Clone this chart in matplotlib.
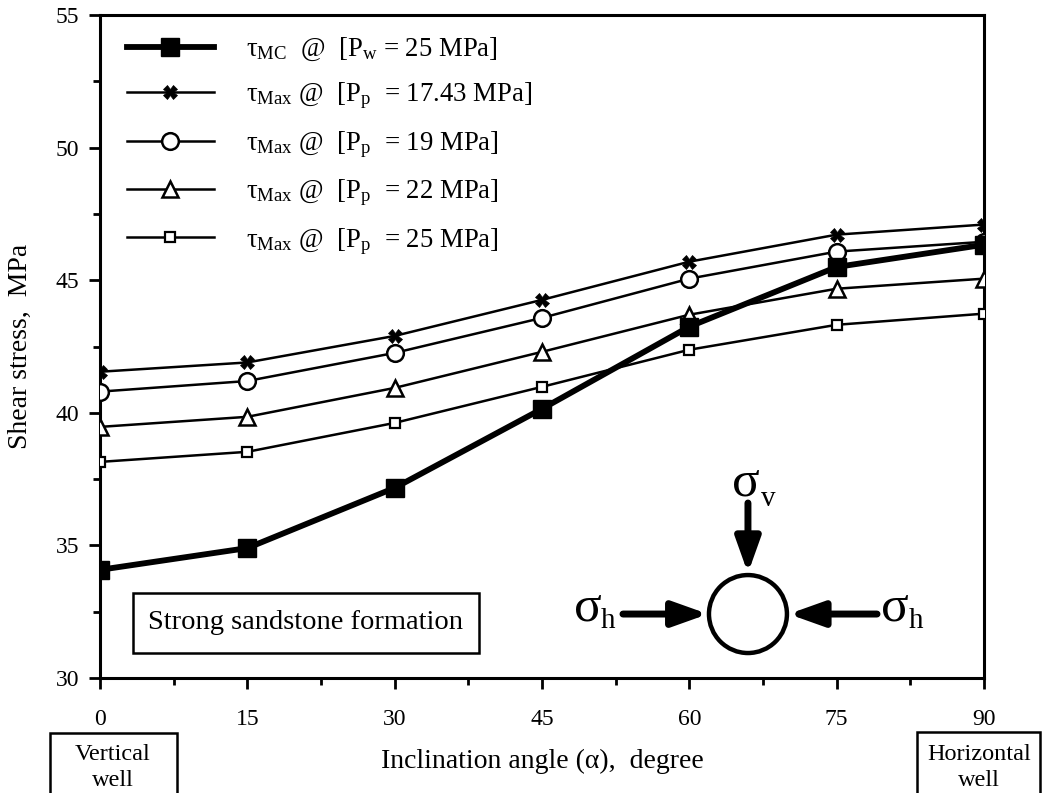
import matplotlib
matplotlib.use("Agg")
import matplotlib.pyplot as plt
from matplotlib.patches import Ellipse, Rectangle, FancyArrowPatch, ArrowStyle

plt.rcParams['font.family'] = ['Liberation Serif', 'DejaVu Serif']
plt.rcParams['mathtext.fontset'] = 'custom'
plt.rcParams['mathtext.rm'] = 'Liberation Serif'
plt.rcParams['mathtext.it'] = 'Liberation Serif:italic'

angles = [0, 15, 30, 45, 60, 75, 90]
tau_mc_pw25 = [34.08, 34.9, 37.17, 40.15, 43.25, 45.5, 46.34]
tau_max_pp1743 = [41.55, 41.9, 42.9, 44.26, 45.7, 46.72, 47.1]
tau_max_pp19 = [40.8, 41.2, 42.26, 43.58, 45.06, 46.08, 46.45]
tau_max_pp22 = [39.47, 39.85, 40.94, 42.3, 43.7, 44.68, 45.06]
tau_max_pp25 = [38.15, 38.53, 39.62, 40.98, 42.38, 43.32, 43.74]

labels = [
    r'τ$_{\mathrm{MC}}$  @  [P$_{\mathrm{w}}$ = 25 MPa]',
    r'τ$_{\mathrm{Max}}$ @  [P$_{\mathrm{p}}$  = 17.43 MPa]',
    r'τ$_{\mathrm{Max}}$ @  [P$_{\mathrm{p}}$  = 19 MPa]',
    r'τ$_{\mathrm{Max}}$ @  [P$_{\mathrm{p}}$  = 22 MPa]',
    r'τ$_{\mathrm{Max}}$ @  [P$_{\mathrm{p}}$  = 25 MPa]',
]
xticks = [0, 15, 30, 45, 60, 75, 90]
yticks = [30, 35, 40, 45, 50, 55]

fig = plt.figure(figsize=(10.44, 7.93), dpi=100)
ax = fig.add_axes([0.0958, 0.145, 0.8467, 0.836])

ax.plot(angles, tau_mc_pw25, color='black', lw=4.2, marker='s', ms=13,
        mfc='black', mec='black', label=labels[0], zorder=5)
ax.plot(angles, tau_max_pp1743, color='black', lw=1.8, marker='X', ms=10,
        mfc='black', mec='black', mew=0.5, label=labels[1], zorder=4)
ax.plot(angles, tau_max_pp19, color='black', lw=1.8, marker='o', ms=12,
        mfc='white', mec='black', mew=1.8, label=labels[2], zorder=4)
ax.plot(angles, tau_max_pp22, color='black', lw=1.8, marker='^', ms=12,
        mfc='white', mec='black', mew=1.8, label=labels[3], zorder=4)
ax.plot(angles, tau_max_pp25, color='black', lw=1.8, marker='s', ms=7.5,
        mfc='white', mec='black', mew=1.6, label=labels[4], zorder=4)

ax.set_xlim(0, 90)
ax.set_ylim(30, 55)
ax.set_xticks(xticks)
ax.set_yticks(yticks)
ax.set_xticks([7.5, 22.5, 37.5, 52.5, 67.5, 82.5], minor=True)
ax.set_yticks([32.5, 37.5, 42.5, 47.5, 52.5], minor=True)
ax.tick_params(axis='both', which='major', direction='out', length=8, width=2,
               labelsize=17, pad=7)
ax.tick_params(axis='both', which='minor', direction='out', length=5, width=2)
ax.tick_params(axis='x', which='major', pad=14)
for s in ax.spines.values():
    s.set_linewidth(2.2)

ax.set_xlabel('Inclination angle (α),  degree', fontsize=20, labelpad=14)
ax.set_ylabel('Shear stress,  MPa', fontsize=20, labelpad=16)

leg = ax.legend(loc='upper left', bbox_to_anchor=(0.012, 0.993), frameon=False,
                fontsize=19.3, handlelength=3.25, handletextpad=1.2,
                labelspacing=0.66, borderaxespad=0.2)

# text box
ax.add_patch(Rectangle((0.0373, 0.0377), 0.3914, 0.0905, transform=ax.transAxes,
                       fill=False, lw=1.8, ec='black', zorder=6))
ax.text(0.233, 0.083, 'Strong sandstone formation', transform=ax.transAxes,
        ha='center', va='center', fontsize=20.5, zorder=6)

# stress diagram
ax.add_patch(Ellipse((0.733, 0.0965), 0.0882, 0.1176, transform=ax.transAxes,
                     fill=False, lw=3.2, ec='black', zorder=6))
style = ArrowStyle('-|>', head_length=21, head_width=7.5)
for (xa, ya), (xb, yb) in [((0.733, 0.264), (0.733, 0.158)),
                           ((0.5916, 0.0965), (0.6878, 0.0965)),
                           ((0.879, 0.0965), (0.779, 0.0965))]:
    ax.add_patch(FancyArrowPatch((xa, ya), (xb, yb), transform=ax.transAxes,
                                 arrowstyle=style, mutation_scale=1, lw=5,
                                 color='black', shrinkA=0, shrinkB=0, zorder=6))
for (sx, sy), (bx, by), sub in [((0.715, 0.276), (0.748, 0.259), 'v'),
                                ((0.536, 0.0875), (0.567, 0.075), 'h'),
                                ((0.884, 0.0875), (0.915, 0.075), 'h')]:
    ax.text(sx, sy, 'σ', transform=ax.transAxes, ha='left', va='baseline',
            fontsize=37, zorder=6)
    ax.text(bx, by, sub, transform=ax.transAxes, ha='left', va='baseline',
            fontsize=21, zorder=6)

# bottom boxes
fig.patches.append(Rectangle((0.0479, -0.01), 0.1216, 0.0857, transform=fig.transFigure,
                             fill=False, lw=1.8, ec='black'))
fig.text(0.108, 0.032, 'Vertical\nwell', ha='center', va='center', fontsize=17.5,
         linespacing=1.3)
fig.patches.append(Rectangle((0.8784, -0.01), 0.1178, 0.087, transform=fig.transFigure,
                             fill=False, lw=1.8, ec='black'))
fig.text(0.938, 0.032, 'Horizontal\nwell', ha='center', va='center', fontsize=17.5,
         linespacing=1.3)

fig.savefig('out.png', dpi=100)
